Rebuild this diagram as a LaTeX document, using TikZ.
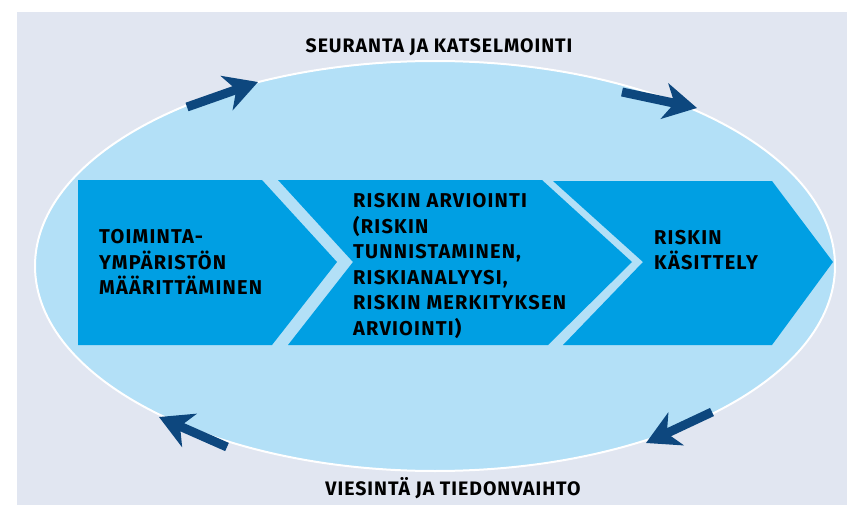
\documentclass[tikz,border=0pt]{standalone}
\usepackage{fontspec}
\newfontfamily\boxfont[LetterSpace=6]{Fira Sans}
\newfontfamily\labelfont[LetterSpace=5]{Fira Sans}
\usetikzlibrary{arrows.meta}
\definecolor{bgback}{HTML}{E1E6F1}
\definecolor{ovalfill}{HTML}{B3E0F7}
\definecolor{stepfill}{HTML}{009FE3}
\definecolor{arrowblue}{HTML}{0D477E}
\tikzset{
  steptext/.style={anchor=west,align=left,inner sep=0pt,
    font=\boxfont\bfseries\fontsize{20}{25.5}\selectfont},
  cyclelabel/.style={anchor=base,inner sep=0pt,
    font=\labelfont\bfseries\fontsize{19.5}{20}\selectfont},
  cyclearrow/.style={draw=arrowblue,line width=9pt,
    -{Stealth[length=33pt,width=36pt,inset=10pt]}},
  stepbox/.style={fill=stepfill}
}
\begin{document}
\begin{tikzpicture}[x=1pt,y=-1pt]
\useasboundingbox (0,0) rectangle (847,511);
\fill[bgback] (17,12) rectangle (847,505);
\path[draw=white,line width=2pt,fill=ovalfill] (435,266) ellipse [x radius=400,y radius=205];

% the three steps
\path[stepbox] (78,180) -- (262,180) -- (337,262) -- (272,345) -- (78,345) -- cycle;
\path[stepbox] (278,180) -- (542,180) -- (632,262) -- (548,345) -- (288,345) -- (353,262) -- cycle;
\path[stepbox] (553,181) -- (772,181) -- (833,262) -- (772,345) -- (563,345) -- (643,262) -- cycle;

\node[steptext] (context) at (99,262) {TOIMINTA-\\YMPÄRISTÖN\\MÄÄRITTÄMINEN};
\node[steptext] (assessment) at (353,266) {RISKIN ARVIOINTI\\(RISKIN\\TUNNISTAMINEN,\\RISKIANALYYSI,\\RISKIN MERKITYKSEN\\ARVIOINTI)};
\node[steptext] (treatment) at (654,250) {RISKIN\\KÄSITTELY};

\node[cyclelabel] (monitoring) at (439,53) {SEURANTA JA KATSELMOINTI};
\node[cyclelabel] (communication) at (453,495) {VIESINTÄ JA TIEDONVAIHTO};

% arrows round the oval
\coordinate (topleftA) at (187,107);
\coordinate (topleftB) at (258,82);
\coordinate (toprightA) at (622,92);
\coordinate (toprightB) at (697,108);
\coordinate (botrightA) at (712,412);
\coordinate (botrightB) at (646,443);
\coordinate (botleftA) at (227,447);
\coordinate (botleftB) at (159,417);

\draw[cyclearrow] (topleftA) -- (topleftB);
\draw[cyclearrow] (toprightA) -- (toprightB);
\draw[cyclearrow] (botrightA) -- (botrightB);
\draw[cyclearrow] (botleftA) -- (botleftB);
\end{tikzpicture}
\end{document}
